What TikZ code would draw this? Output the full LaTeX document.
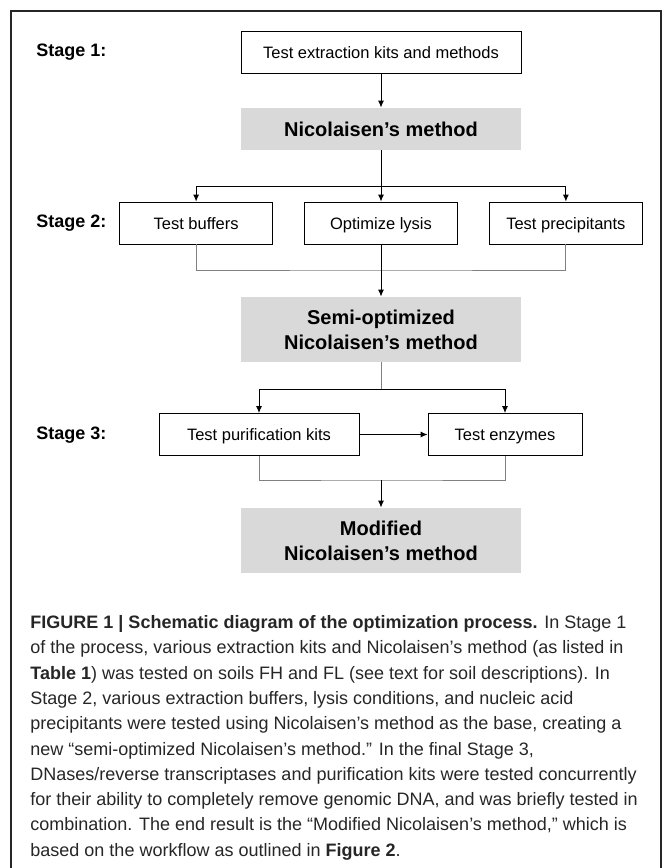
\documentclass[tikz,border=0pt]{standalone}
\usepackage{fontspec}
\setmainfont{Liberation Sans}
\usetikzlibrary{positioning,arrows.meta}

\begin{document}
\begin{tikzpicture}[x=1pt,y=-1pt,>={Latex[length=7pt,width=6pt]},line width=0.9pt,
    every node/.style={inner sep=0pt},
    stagebox/.style={draw=black,line width=0.9pt,minimum height=42pt,text height=12pt,text depth=0pt,font=\fontsize{16.5}{18}\selectfont},
    method/.style={fill=black!15,minimum width=280pt,align=center,font=\bfseries\fontsize{20}{25}\selectfont},
    stagelabel/.style={anchor=west,font=\bfseries\fontsize{18}{20}\selectfont},
    mergeline/.style={draw=black!50,line width=0.9pt}]
    \useasboundingbox (0,0) rectangle (672,868);
    \draw[line width=1.2pt,black!85] (11,868) |- (661,11) -- (661,868);

    % stage 1
    \node[stagelabel] (s1) at (36,52) {Stage 1:};
    \node[stagebox,minimum width=280pt] (kits) at (381,52) {Test extraction kits and methods};
    \node[method,minimum height=42pt] (nico) at (381,129) {Nicolaisen’s method};

    % stage 2
    \node[stagelabel] (s2) at (36,223) {Stage 2:};
    \node[stagebox,minimum width=153pt] (lysis) at (381,223) {Optimize lysis};
    \node[stagebox,minimum width=153pt,left=31pt of lysis] (buffers) {Test buffers};
    \node[stagebox,minimum width=153pt,right=31pt of lysis] (precip) {Test precipitants};
    \node[method,minimum height=65pt] (semi) at (381,329.5) {Semi-optimized\\Nicolaisen’s method};

    % stage 3
    \node[stagelabel] (s3) at (36,435) {Stage 3:};
    \node[stagebox,minimum width=200pt] (purif) at (259,434.5) {Test purification kits};
    \node[stagebox,minimum width=154pt] (enzymes) at (505,434.5) {Test enzymes};
    \node[method,minimum height=65pt] (modified) at (381,540.5) {Modified\\Nicolaisen’s method};

    \coordinate (fork1) at (381,186);
    \coordinate (merge2) at (381,270);
    \coordinate (fork3) at (381,389);
    \coordinate (merge3) at (381,480);

    \draw[->] (kits) -- (nico);
    \draw[->] (nico) -- (lysis);
    \draw[->] (fork1) -| (buffers);
    \draw[->] (fork1) -| (precip);
    \draw[mergeline] (buffers) |- (merge2) -| (precip);
    \draw[->] (lysis) -- (semi);
    \draw[mergeline] (semi) -- (fork3);
    \draw[->] (fork3) -| (purif);
    \draw[->] (fork3) -| (enzymes);
    \draw[->] (purif) -- (enzymes);
    \draw[mergeline] (purif) |- (merge3) -| (enzymes);
    \draw[->] (merge3) -- (modified);

    % caption
    \node[anchor=north west,align=left,text=black!85,font=\fontsize{18}{25.3}\selectfont] (caption) at (30,615) {%
        \textbf{FIGURE 1 | Schematic diagram of the optimization process.} In Stage 1\\
        of the process, various extraction kits and Nicolaisen’s method (as listed in\\
        \textbf{Table 1}) was tested on soils FH and FL (see text for soil descriptions). In\\
        Stage 2, various extraction buffers, lysis conditions, and nucleic acid\\
        precipitants were tested using Nicolaisen’s method as the base, creating a\\
        new “semi-optimized Nicolaisen’s method.” In the final Stage 3,\\
        DNases/reverse transcriptases and purification kits were tested concurrently\\
        for their ability to completely remove genomic DNA, and was briefly tested in\\
        combination. The end result is the “Modified Nicolaisen’s method,” which is\\
        based on the workflow as outlined in \textbf{Figure 2}.};
\end{tikzpicture}
\end{document}
